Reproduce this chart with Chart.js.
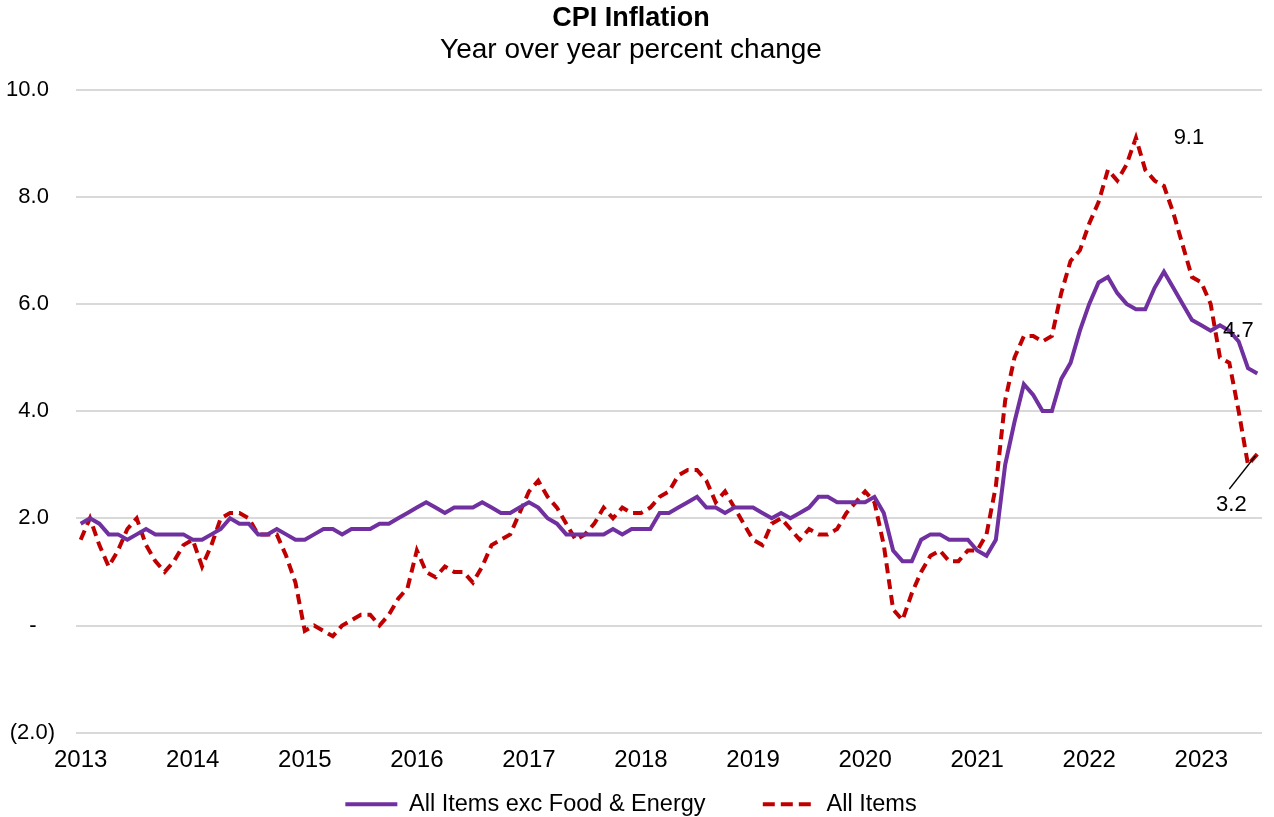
<!DOCTYPE html>
<html>
<head>
<meta charset="utf-8">
<title>CPI Inflation</title>
<script src="https://cdn.jsdelivr.net/npm/chart.js@4.4.0/dist/chart.umd.min.js"></script>
<style>
  html, body { margin: 0; padding: 0; background: #fff; }
  #wrap { width: 1274px; height: 817px; }
</style>
</head>
<body>
<div id="wrap"><canvas id="cpiChart" width="1274" height="817"></canvas></div>
<script>
// CPI year-over-year % change, monthly Jan 2013 - Jul 2023
const years = ['2013','2014','2015','2016','2017','2018','2019','2020','2021','2022','2023'];

// All Items exc Food & Energy (core)
const coreCpi = [
  1.9, 2.0, 1.9, 1.7, 1.7, 1.6, 1.7, 1.8, 1.7, 1.7, 1.7, 1.7,   // 2013
  1.6, 1.6, 1.7, 1.8, 2.0, 1.9, 1.9, 1.7, 1.7, 1.8, 1.7, 1.6,   // 2014
  1.6, 1.7, 1.8, 1.8, 1.7, 1.8, 1.8, 1.8, 1.9, 1.9, 2.0, 2.1,   // 2015
  2.2, 2.3, 2.2, 2.1, 2.2, 2.2, 2.2, 2.3, 2.2, 2.1, 2.1, 2.2,   // 2016
  2.3, 2.2, 2.0, 1.9, 1.7, 1.7, 1.7, 1.7, 1.7, 1.8, 1.7, 1.8,   // 2017
  1.8, 1.8, 2.1, 2.1, 2.2, 2.3, 2.4, 2.2, 2.2, 2.1, 2.2, 2.2,   // 2018
  2.2, 2.1, 2.0, 2.1, 2.0, 2.1, 2.2, 2.4, 2.4, 2.3, 2.3, 2.3,   // 2019
  2.3, 2.4, 2.1, 1.4, 1.2, 1.2, 1.6, 1.7, 1.7, 1.6, 1.6, 1.6,   // 2020
  1.4, 1.3, 1.6, 3.0, 3.8, 4.5, 4.3, 4.0, 4.0, 4.6, 4.9, 5.5,   // 2021
  6.0, 6.4, 6.5, 6.2, 6.0, 5.9, 5.9, 6.3, 6.6, 6.3, 6.0, 5.7,   // 2022
  5.6, 5.5, 5.6, 5.5, 5.3, 4.8, 4.7                             // 2023
];

// All Items (headline)
const allCpi = [
  1.6, 2.0, 1.5, 1.1, 1.4, 1.8, 2.0, 1.5, 1.2, 1.0, 1.2, 1.5,   // 2013
  1.6, 1.1, 1.5, 2.0, 2.1, 2.1, 2.0, 1.7, 1.7, 1.7, 1.3, 0.8,   // 2014
  -0.1, 0.0, -0.1, -0.2, 0.0, 0.1, 0.2, 0.2, 0.0, 0.2, 0.5, 0.7, // 2015
  1.4, 1.0, 0.9, 1.1, 1.0, 1.0, 0.8, 1.1, 1.5, 1.6, 1.7, 2.1,   // 2016
  2.5, 2.7, 2.4, 2.2, 1.9, 1.6, 1.7, 1.9, 2.2, 2.0, 2.2, 2.1,   // 2017
  2.1, 2.2, 2.4, 2.5, 2.8, 2.9, 2.9, 2.7, 2.3, 2.5, 2.2, 1.9,   // 2018
  1.6, 1.5, 1.9, 2.0, 1.8, 1.6, 1.8, 1.7, 1.7, 1.8, 2.1, 2.3,   // 2019
  2.5, 2.3, 1.5, 0.3, 0.1, 0.6, 1.0, 1.3, 1.4, 1.2, 1.2, 1.4,   // 2020
  1.4, 1.7, 2.6, 4.2, 5.0, 5.4, 5.4, 5.3, 5.4, 6.2, 6.8, 7.0,   // 2021
  7.5, 7.9, 8.5, 8.3, 8.6, 9.1, 8.5, 8.3, 8.2, 7.7, 7.1, 6.5,   // 2022
  6.4, 6.0, 5.0, 4.9, 4.0, 3.0, 3.2                             // 2023
];

// month labels "YYYY-MM"
const months = [];
for (const y of years) {
  for (let m = 1; m <= 12; m++) {
    if (months.length < allCpi.length) months.push(`${y}-${String(m).padStart(2,'0')}`);
  }
}

const yTicks = [10, 8, 6, 4, 2, 0, -2];

// callout labels: peak of all items, last core, last all items
const callouts = [
  { text: '9.1', series: 1, index: 113 },
  { text: '4.7', series: 0, index: coreCpi.length - 1 },
  { text: '3.2', series: 1, index: allCpi.length - 1 },
];

const FONT = "'Liberation Sans', Arial, sans-serif";

function fmtTick(v){
  // accounting-style number format
  if (v === 0) return '-\u2007 ';
  if (v < 0) return `(${Math.abs(v).toFixed(1)})`;
  return v.toFixed(1) + ' ';
}

const calloutPlugin = {
  id: 'callouts',
  afterDatasetsDraw(chart){
    const { ctx } = chart;
    const xs = chart.scales.x, ys = chart.scales.y;
    ctx.save();
    ctx.font = `22px ${FONT}`;
    ctx.fillStyle = '#000';
    ctx.textAlign = 'center';
    ctx.textBaseline = 'middle';
    for (const c of callouts){
      const val = chart.data.datasets[c.series].data[c.index];
      const px = xs.getPixelForValue(c.index);
      const py = ys.getPixelForValue(val);
      if (c.text === '9.1'){
        ctx.fillText(c.text, px + 53, py);
      } else if (c.text === '4.7'){
        ctx.fillText(c.text, px - 19, py - 43);
      } else {
        // leader line down-left to the label
        ctx.strokeStyle = '#000';
        ctx.lineWidth = 1.3;
        ctx.beginPath();
        ctx.moveTo(px - 2, py + 2);
        ctx.lineTo(px - 28, py + 35);
        ctx.stroke();
        ctx.fillText(c.text, px - 26, py + 51);
      }
    }
    ctx.restore();
  }
};

const ctx = document.getElementById('cpiChart').getContext('2d');
new Chart(ctx, {
  type: 'line',
  data: {
    labels: months,
    datasets: [
      {
        label: 'All Items exc Food & Energy',
        data: coreCpi,
        borderColor: '#7030a0',
        backgroundColor: '#7030a0',
        borderWidth: 4,
        pointRadius: 0,
        tension: 0,
      },
      {
        label: 'All Items',
        data: allCpi,
        borderColor: '#c00000',
        backgroundColor: '#c00000',
        borderWidth: 4,
        borderDash: [10, 6],
        pointRadius: 0,
        tension: 0,
      }
    ]
  },
  options: {
    responsive: false,
    animation: false,
    layout: { padding: { left: 0, right: 12, top: 0, bottom: -9 } },
    plugins: {
      title: {
        display: true,
        text: 'CPI Inflation',
        color: '#000',
        font: { family: FONT, size: 27, weight: 'bold', lineHeight: 1.1 },
        padding: { top: 4, bottom: 0 }
      },
      subtitle: {
        display: true,
        text: 'Year over year percent change',
        color: '#000',
        font: { family: FONT, size: 28, lineHeight: 1.1 },
        padding: { top: 1, bottom: 24 }
      },
      legend: {
        position: 'bottom',
        labels: {
          usePointStyle: true,
          pointStyle: 'line',
          pointStyleWidth: 52,
          boxWidth: 52,
          boxHeight: 4,
          padding: 5,
          color: '#000',
          font: { family: FONT, size: 23.5 },
          generateLabels(chart){
            return chart.data.datasets.map((ds, i) => ({
              // trailing spaces widen the gap between the two entries
              text: i === 0 ? ds.label + '        ' : ds.label,
              datasetIndex: i,
              fillStyle: ds.borderColor,
              strokeStyle: ds.borderColor,
              lineWidth: 4,
              lineDash: i === 1 ? [12, 6] : [],
              pointStyle: 'line',
              fontColor: '#000',
              hidden: false
            }));
          }
        }
      },
      tooltip: { enabled: false }
    },
    scales: {
      x: {
        offset: true,
        grid: { display: false, drawTicks: false },
        border: { display: false },
        ticks: {
          autoSkip: false,
          maxRotation: 0,
          padding: 13,
          color: '#000',
          font: { family: FONT, size: 24 },
          callback(v, i){
            const lab = months[i];
            return lab.endsWith('-01') ? lab.slice(0, 4) : null;
          }
        }
      },
      y: {
        min: -2,
        max: 10,
        afterBuildTicks(scale){ scale.ticks = yTicks.map(v => ({ value: v })); },
        afterFit(scale){ scale.width = 76; },
        grid: { color: '#d9d9d9', lineWidth: 2, drawTicks: false },
        border: { display: false },
        ticks: {
          padding: 21,
          color: '#000',
          font: { family: FONT, size: 22 },
          callback: v => fmtTick(v)
        }
      }
    }
  },
  plugins: [calloutPlugin]
});
</script>
</body>
</html>
